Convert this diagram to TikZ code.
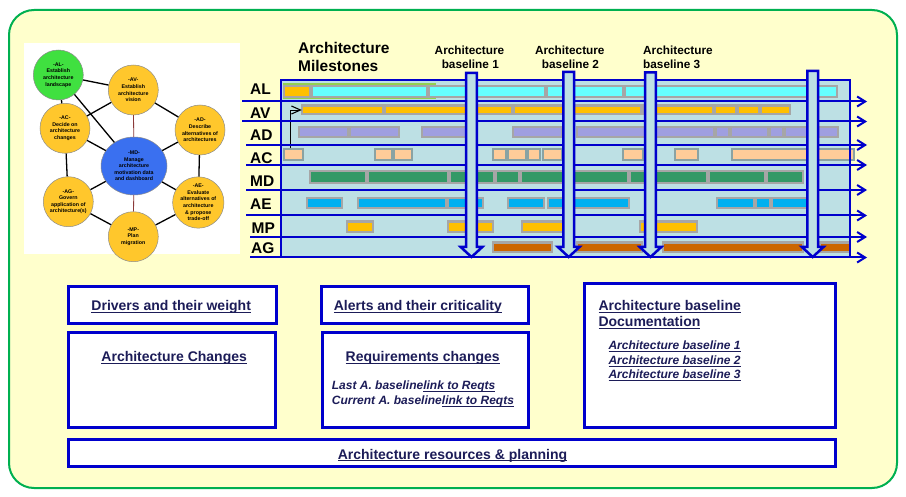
\documentclass[tikz,border=0pt]{standalone}
\usepackage{fontspec}
\setmainfont{Liberation Sans}
\usetikzlibrary{arrows.meta,shapes.geometric}

\definecolor{outerfill}{HTML}{FFFFCC}
\definecolor{outerline}{HTML}{00B050}
\definecolor{panel}{HTML}{BDE0E4}
\definecolor{lblue}{HTML}{0000CC}
\definecolor{navy}{HTML}{1C1C58}
\definecolor{cyanbar}{HTML}{66FFFF}
\definecolor{orangebar}{HTML}{FFC000}
\definecolor{lavbar}{HTML}{9F9FE0}
\definecolor{peachbar}{HTML}{FFCC99}
\definecolor{greenbar}{HTML}{339966}
\definecolor{bluebar}{HTML}{00B0F0}
\definecolor{brownbar}{HTML}{CC6600}
\definecolor{barline}{HTML}{A6A6A6}
\definecolor{acline}{HTML}{8AA3A3}
\definecolor{procyellow}{HTML}{FFC72C}
\definecolor{procgreen}{HTML}{40E040}
\definecolor{procblue}{HTML}{3A70F0}
\definecolor{edgebrown}{HTML}{8B3A3A}
\definecolor{algreen}{HTML}{92D050}

\newcommand{\ulx}[1]{\setbox0\hbox{#1}\rlap{\rule[-2.2pt]{\wd0}{0.9pt}}\box0}
\newcommand{\gbar}[5]{\draw[gbar,fill=#5] (#1+1.2,#3+1.2) rectangle (#2-1.2,#4-1.2);}
\newcommand{\acbar}[2]{\draw[gbar,draw=acline,fill=peachbar] (#1+1.2,149.2) rectangle (#2-1.2,159.8);}
\newcommand{\msarr}[2]{\draw[msarrow] (#1-5.3,#2) -- (#1+5.3,#2) -- (#1+5.3,247) -- (#1+10.8,247) -- (#1,257) -- (#1-10.8,247) -- (#1-5.3,247) -- cycle;}

\tikzset{
  proc/.style={circle, draw=black!45, line width=0.5pt, fill=procyellow, minimum size=50pt,
    inner sep=0pt, align=center, font=\fontsize{5.3}{6.6}\selectfont\bfseries, text=black},
  edge/.style={draw=black, line width=1.3pt},
  bedge/.style={draw=edgebrown, line width=0.8pt},
  gbar/.style={draw=barline, line width=2.4pt},
  rowline/.style={draw=lblue, line width=2pt, -{Straight Barb[length=8pt,width=10pt]}},
  msarrow/.style={draw=lblue, line width=2.5pt, fill=panel, line join=miter},
  rowlab/.style={anchor=base west, inner sep=0pt, font=\fontsize{15.5}{18}\selectfont\bfseries},
  hdr/.style={inner sep=0pt, font=\fontsize{11.8}{14}\selectfont\bfseries},
  wbox/.style={draw=lblue, line width=3pt, fill=white, inner sep=0pt},
  btxt/.style={inner sep=0pt, text=navy, font=\fontsize{14}{16}\selectfont\bfseries},
  itxt/.style={inner sep=0pt, text=navy, anchor=base west, font=\fontsize{12}{14}\selectfont\bfseries\itshape},
}

\begin{document}
\begin{tikzpicture}[x=1pt,y=-1pt]
\useasboundingbox (0,0) rectangle (906,497);
\fill[white] (0,0) rectangle (906,497);
\draw[draw=outerline, line width=2pt, fill=outerfill, rounded corners=25pt] (9,10) rectangle (897,488);

% ---------- left process diagram ----------
\fill[white] (24,43) rectangle (240,254);
\node[proc, fill=procgreen] (AL) at (58.3,75) {-AL-\\Establish\\architecture\\landscape};
\node[proc] (AV) at (133.3,90) {-AV-\\Establish\\architecture\\vision};
\node[proc] (AC) at (65,128.3) {-AC-\\Decide on\\architecture\\changes};
\node[proc] (AD) at (200,130) {-AD-\\Describe\\alternatives of\\architectures};
\node[proc, ellipse, fill=procblue, minimum width=66pt, minimum height=58pt] (MD) at (134,166) {-MD-\\Manage\\architecture\\motivation data\\and dashboard};
\node[proc] (AG) at (68.3,201.7) {-AG-\\Govern\\application of\\architecture(s)};
\node[proc] (AE) at (198.3,202.5) {-AE-\\Evaluate\\alternatives of\\architecture\\\& propose\\trade-off};
\node[proc] (MP) at (133.3,236.7) {-MP-\\Plan\\migration};
\draw[edge] (AL) -- (AV);
\draw[edge] (AL) -- (AC);
\draw[edge] (AL) -- (MD);
\draw[edge] (AC) -- (AV);
\draw[edge] (AV) -- (AD);
\draw[bedge] (AV) -- (MD);
\draw[edge] (AC) -- (MD);
\draw[edge] (AD) -- (MD);
\draw[edge] (AC) -- (AG);
\draw[edge] (AD) -- (AE);
\draw[edge] (AG) -- (MD);
\draw[edge] (AE) -- (MD);
\draw[bedge] (MD) -- (MP);
\draw[edge] (AG) -- (MP);
\draw[edge] (AE) -- (MP);

% ---------- headers ----------
\node[anchor=base west, inner sep=0pt, font=\fontsize{15.5}{18}\selectfont\bfseries] (ms1) at (298,53.3) {Architecture};
\node[anchor=base west, inner sep=0pt, font=\fontsize{15.5}{18}\selectfont\bfseries] (ms2) at (298,71.7) {Milestones};
\node[hdr, anchor=base] (b1a) at (469.5,54.3) {Architecture};
\node[hdr, anchor=base] (b1b) at (470.3,68.3) {baseline 1};
\node[hdr, anchor=base] (b2a) at (569.8,54.3) {Architecture};
\node[hdr, anchor=base] (b2b) at (570.5,68.3) {baseline 2};
\node[hdr, anchor=base west] (b3a) at (643,54.3) {Architecture};
\node[hdr, anchor=base west] (b3b) at (643,68.3) {baseline 3};

% ---------- gantt panel ----------
\fill[panel] (281,80) rectangle (850,257);

% AL
\draw[draw=algreen, line width=1.6pt] (283.5,84.3) rectangle (435,98.7);
\gbar{283}{311}{85}{98}{orangebar}
\foreach \a/\b in {311/428, 428/546, 546/624, 624/838} {\gbar{\a}{\b}{85}{98}{cyanbar}}
% AV
\foreach \a/\b in {301/384, 384/513, 513/642, 642/714, 714/737, 737/760, 760/791} {\gbar{\a}{\b}{104.5}{115.5}{orangebar}}
% AD
\foreach \a/\b in {298/349, 349/400, 421/468, 512/563, 576/715, 715/730, 730/769, 769/784, 784/839} {\gbar{\a}{\b}{126}{138}{lavbar}}
% AC
\foreach \a/\b in {283/304, 374/393, 393/413, 492/507, 507/527, 527/541, 542/563, 622/644, 674/699, 731/855} {\acbar{\a}{\b}}
% MD
\foreach \a/\b in {309/367, 367/449, 449/495, 495/520, 520/629, 629/708, 708/766, 766/804} {\gbar{\a}{\b}{170}{184}{greenbar}}
% AE
\foreach \a/\b in {306/343, 357/447, 447/484, 507/545, 547/630, 716/755, 755/771, 771/808} {\gbar{\a}{\b}{197}{209.5}{bluebar}}
% MP
\foreach \a/\b in {346/374, 447/494, 521/565, 639/698} {\gbar{\a}{\b}{220.5}{233}{orangebar}}
% AG
\foreach \a/\b in {492/553, 576/643, 662/804, 819/851} {\gbar{\a}{\b}{241.5}{253}{brownbar}}

% black link AC -> AV
\coordinate (acb) at (290.7,148.5);
\coordinate (avb) at (301.8,110);
\draw[line width=0.7pt, -{Straight Barb[length=9pt,width=8pt,line width=1.1pt]}] (acb) |- (avb);

% row lines
\foreach \i/\y/\s in {1/101.5/242, 2/121.5/242, 3/145/246, 4/165/246, 5/190/246, 6/215.5/246, 7/237/250, 8/257.5/250} {
  \coordinate (rs\i) at (\s,\y);
  \coordinate (re\i) at (867,\y);
  \draw[rowline] (rs\i) -- (re\i);
}
\draw[draw=lblue, line width=2.5pt] (281,80) rectangle (850,257);

% milestone arrows
\msarr{471.5}{73}
\msarr{568.7}{72}
\msarr{650.5}{72.3}
\msarr{812.7}{71}

% row labels
\node[rowlab] (lAL) at (250,95) {AL};
\node[rowlab] (lAV) at (250,118.3) {AV};
\node[rowlab] (lAD) at (250,141) {AD};
\node[rowlab] (lAC) at (250,163.3) {AC};
\node[rowlab] (lMD) at (250,186.7) {MD};
\node[rowlab] (lAE) at (250,209.3) {AE};
\node[rowlab] (lMP) at (251.5,233.3) {MP};
\node[rowlab] (lAG) at (251,253.3) {AG};

% ---------- bottom boxes ----------
\node[wbox, minimum width=208pt, minimum height=37pt] (drv) at (172.8,305) {};
\node[wbox, minimum width=207pt, minimum height=95pt] (chg) at (172.3,380) {};
\node[wbox, minimum width=207pt, minimum height=37pt] (alr) at (425,305) {};
\node[wbox, minimum width=206.3pt, minimum height=95pt] (req) at (425.3,380) {};
\node[wbox, minimum width=251.6pt, minimum height=143.7pt] (doc) at (710,355.6) {};
\node[wbox, minimum width=766.7pt, minimum height=27pt] (res) at (452.2,453.3) {};

\node[btxt, anchor=base] (tdrv) at (171.2,311) {\ulx{Drivers and their weight}};
\node[btxt, anchor=base] (tchg) at (174.2,361.7) {\ulx{Architecture Changes}};
\node[btxt, anchor=base] (talr) at (417.9,311) {\ulx{Alerts and their criticality}};
\node[btxt, anchor=base] (treq) at (422.7,361.5) {\ulx{Requirements changes}};
\node[itxt] (tlast) at (331.7,390) {Last A. baseline\ulx{link to Reqts}};
\node[itxt] (tcur) at (331.7,404.5) {Current A. baseline\ulx{link to Reqts}};
\node[btxt, anchor=base west] (tdoc1) at (598.3,311) {\ulx{Architecture baseline}};
\node[btxt, anchor=base west] (tdoc2) at (598.3,326.7) {\ulx{Documentation}};
\node[itxt] (tbl1) at (608.3,350) {\ulx{Architecture baseline 1}};
\node[itxt] (tbl2) at (608.3,364.5) {\ulx{Architecture baseline 2}};
\node[itxt] (tbl3) at (608.3,379) {\ulx{Architecture baseline 3}};
\node[btxt, anchor=base] (tres) at (452.5,459) {\ulx{Architecture resources \& planning}};
\end{tikzpicture}
\end{document}
